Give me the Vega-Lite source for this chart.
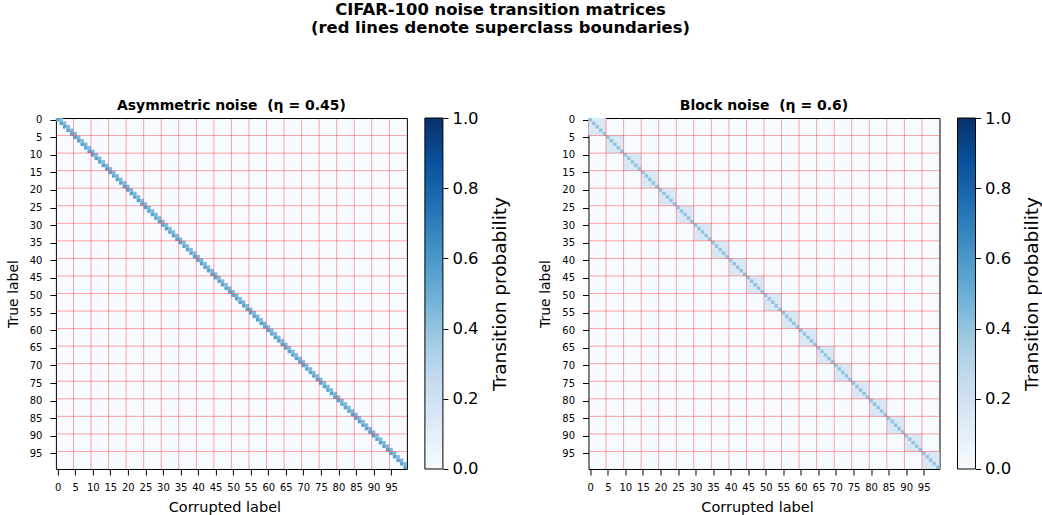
{
  "$schema": "https://vega.github.io/schema/vega-lite/v6.json",
  "background": "white",
  "padding": {"left": 4.9, "top": 2, "right": 0, "bottom": 0},
  "config": {
    "font": "DejaVu Sans",
    "axis": {"labelFont": "DejaVu Sans", "titleFont": "DejaVu Sans", "labelColor": "black", "titleColor": "black", "tickColor": "black", "titleFontWeight": "normal", "grid": false},
    "axisX": {"values": [0,5,10,15,20,25,30,35,40,45,50,55,60,65,70,75,80,85,90,95], "labelFontSize": 10, "tickSize": 6, "labelPadding": 8, "domain": false, "labelAngle": 0, "labelFlush": false, "labelOverlap": false, "titleFontSize": 14.5, "titlePadding": 8, "titleX": 168.5},
    "axisY": {"labelFontSize": 10, "tickSize": 6, "labelPadding": 8, "domain": false, "labelFlush": false, "labelOverlap": false, "titleFontSize": 14, "titlePadding": 9},
    "title": {"font": "DejaVu Sans", "color": "black"}
  },
  "title": {
    "text": ["CIFAR-100 noise transition matrices", "(red lines denote superclass boundaries)"],
    "fontSize": 16.4, "fontWeight": "bold", "anchor": "middle", "lineHeight": 18, "offset": 61.7, "dx": -23
  },
  "datasets": {
    "diag": [
      {"i":0,"a":0.55,"b":0.4},{"i":1,"a":0.55,"b":0.4},{"i":2,"a":0.55,"b":0.4},{"i":3,"a":0.55,"b":0.4},{"i":4,"a":0.55,"b":0.4},
      {"i":5,"a":0.55,"b":0.4},{"i":6,"a":0.55,"b":0.4},{"i":7,"a":0.55,"b":0.4},{"i":8,"a":0.55,"b":0.4},{"i":9,"a":0.55,"b":0.4},
      {"i":10,"a":0.55,"b":0.4},{"i":11,"a":0.55,"b":0.4},{"i":12,"a":0.55,"b":0.4},{"i":13,"a":0.55,"b":0.4},{"i":14,"a":0.55,"b":0.4},
      {"i":15,"a":0.55,"b":0.4},{"i":16,"a":0.55,"b":0.4},{"i":17,"a":0.55,"b":0.4},{"i":18,"a":0.55,"b":0.4},{"i":19,"a":0.55,"b":0.4},
      {"i":20,"a":0.55,"b":0.4},{"i":21,"a":0.55,"b":0.4},{"i":22,"a":0.55,"b":0.4},{"i":23,"a":0.55,"b":0.4},{"i":24,"a":0.55,"b":0.4},
      {"i":25,"a":0.55,"b":0.4},{"i":26,"a":0.55,"b":0.4},{"i":27,"a":0.55,"b":0.4},{"i":28,"a":0.55,"b":0.4},{"i":29,"a":0.55,"b":0.4},
      {"i":30,"a":0.55,"b":0.4},{"i":31,"a":0.55,"b":0.4},{"i":32,"a":0.55,"b":0.4},{"i":33,"a":0.55,"b":0.4},{"i":34,"a":0.55,"b":0.4},
      {"i":35,"a":0.55,"b":0.4},{"i":36,"a":0.55,"b":0.4},{"i":37,"a":0.55,"b":0.4},{"i":38,"a":0.55,"b":0.4},{"i":39,"a":0.55,"b":0.4},
      {"i":40,"a":0.55,"b":0.4},{"i":41,"a":0.55,"b":0.4},{"i":42,"a":0.55,"b":0.4},{"i":43,"a":0.55,"b":0.4},{"i":44,"a":0.55,"b":0.4},
      {"i":45,"a":0.55,"b":0.4},{"i":46,"a":0.55,"b":0.4},{"i":47,"a":0.55,"b":0.4},{"i":48,"a":0.55,"b":0.4},{"i":49,"a":0.55,"b":0.4},
      {"i":50,"a":0.55,"b":0.4},{"i":51,"a":0.55,"b":0.4},{"i":52,"a":0.55,"b":0.4},{"i":53,"a":0.55,"b":0.4},{"i":54,"a":0.55,"b":0.4},
      {"i":55,"a":0.55,"b":0.4},{"i":56,"a":0.55,"b":0.4},{"i":57,"a":0.55,"b":0.4},{"i":58,"a":0.55,"b":0.4},{"i":59,"a":0.55,"b":0.4},
      {"i":60,"a":0.55,"b":0.4},{"i":61,"a":0.55,"b":0.4},{"i":62,"a":0.55,"b":0.4},{"i":63,"a":0.55,"b":0.4},{"i":64,"a":0.55,"b":0.4},
      {"i":65,"a":0.55,"b":0.4},{"i":66,"a":0.55,"b":0.4},{"i":67,"a":0.55,"b":0.4},{"i":68,"a":0.55,"b":0.4},{"i":69,"a":0.55,"b":0.4},
      {"i":70,"a":0.55,"b":0.4},{"i":71,"a":0.55,"b":0.4},{"i":72,"a":0.55,"b":0.4},{"i":73,"a":0.55,"b":0.4},{"i":74,"a":0.55,"b":0.4},
      {"i":75,"a":0.55,"b":0.4},{"i":76,"a":0.55,"b":0.4},{"i":77,"a":0.55,"b":0.4},{"i":78,"a":0.55,"b":0.4},{"i":79,"a":0.55,"b":0.4},
      {"i":80,"a":0.55,"b":0.4},{"i":81,"a":0.55,"b":0.4},{"i":82,"a":0.55,"b":0.4},{"i":83,"a":0.55,"b":0.4},{"i":84,"a":0.55,"b":0.4},
      {"i":85,"a":0.55,"b":0.4},{"i":86,"a":0.55,"b":0.4},{"i":87,"a":0.55,"b":0.4},{"i":88,"a":0.55,"b":0.4},{"i":89,"a":0.55,"b":0.4},
      {"i":90,"a":0.55,"b":0.4},{"i":91,"a":0.55,"b":0.4},{"i":92,"a":0.55,"b":0.4},{"i":93,"a":0.55,"b":0.4},{"i":94,"a":0.55,"b":0.4},
      {"i":95,"a":0.55,"b":0.4},{"i":96,"a":0.55,"b":0.4},{"i":97,"a":0.55,"b":0.4},{"i":98,"a":0.55,"b":0.4},{"i":99,"a":0.55,"b":0.4}
    ],
    "off": [
      {"i":0,"j":1,"p":0.45},{"i":1,"j":2,"p":0.45},{"i":2,"j":3,"p":0.45},{"i":3,"j":4,"p":0.45},{"i":4,"j":5,"p":0.45},
      {"i":5,"j":6,"p":0.45},{"i":6,"j":7,"p":0.45},{"i":7,"j":8,"p":0.45},{"i":8,"j":9,"p":0.45},{"i":9,"j":10,"p":0.45},
      {"i":10,"j":11,"p":0.45},{"i":11,"j":12,"p":0.45},{"i":12,"j":13,"p":0.45},{"i":13,"j":14,"p":0.45},{"i":14,"j":15,"p":0.45},
      {"i":15,"j":16,"p":0.45},{"i":16,"j":17,"p":0.45},{"i":17,"j":18,"p":0.45},{"i":18,"j":19,"p":0.45},{"i":19,"j":20,"p":0.45},
      {"i":20,"j":21,"p":0.45},{"i":21,"j":22,"p":0.45},{"i":22,"j":23,"p":0.45},{"i":23,"j":24,"p":0.45},{"i":24,"j":25,"p":0.45},
      {"i":25,"j":26,"p":0.45},{"i":26,"j":27,"p":0.45},{"i":27,"j":28,"p":0.45},{"i":28,"j":29,"p":0.45},{"i":29,"j":30,"p":0.45},
      {"i":30,"j":31,"p":0.45},{"i":31,"j":32,"p":0.45},{"i":32,"j":33,"p":0.45},{"i":33,"j":34,"p":0.45},{"i":34,"j":35,"p":0.45},
      {"i":35,"j":36,"p":0.45},{"i":36,"j":37,"p":0.45},{"i":37,"j":38,"p":0.45},{"i":38,"j":39,"p":0.45},{"i":39,"j":40,"p":0.45},
      {"i":40,"j":41,"p":0.45},{"i":41,"j":42,"p":0.45},{"i":42,"j":43,"p":0.45},{"i":43,"j":44,"p":0.45},{"i":44,"j":45,"p":0.45},
      {"i":45,"j":46,"p":0.45},{"i":46,"j":47,"p":0.45},{"i":47,"j":48,"p":0.45},{"i":48,"j":49,"p":0.45},{"i":49,"j":50,"p":0.45},
      {"i":50,"j":51,"p":0.45},{"i":51,"j":52,"p":0.45},{"i":52,"j":53,"p":0.45},{"i":53,"j":54,"p":0.45},{"i":54,"j":55,"p":0.45},
      {"i":55,"j":56,"p":0.45},{"i":56,"j":57,"p":0.45},{"i":57,"j":58,"p":0.45},{"i":58,"j":59,"p":0.45},{"i":59,"j":60,"p":0.45},
      {"i":60,"j":61,"p":0.45},{"i":61,"j":62,"p":0.45},{"i":62,"j":63,"p":0.45},{"i":63,"j":64,"p":0.45},{"i":64,"j":65,"p":0.45},
      {"i":65,"j":66,"p":0.45},{"i":66,"j":67,"p":0.45},{"i":67,"j":68,"p":0.45},{"i":68,"j":69,"p":0.45},{"i":69,"j":70,"p":0.45},
      {"i":70,"j":71,"p":0.45},{"i":71,"j":72,"p":0.45},{"i":72,"j":73,"p":0.45},{"i":73,"j":74,"p":0.45},{"i":74,"j":75,"p":0.45},
      {"i":75,"j":76,"p":0.45},{"i":76,"j":77,"p":0.45},{"i":77,"j":78,"p":0.45},{"i":78,"j":79,"p":0.45},{"i":79,"j":80,"p":0.45},
      {"i":80,"j":81,"p":0.45},{"i":81,"j":82,"p":0.45},{"i":82,"j":83,"p":0.45},{"i":83,"j":84,"p":0.45},{"i":84,"j":85,"p":0.45},
      {"i":85,"j":86,"p":0.45},{"i":86,"j":87,"p":0.45},{"i":87,"j":88,"p":0.45},{"i":88,"j":89,"p":0.45},{"i":89,"j":90,"p":0.45},
      {"i":90,"j":91,"p":0.45},{"i":91,"j":92,"p":0.45},{"i":92,"j":93,"p":0.45},{"i":93,"j":94,"p":0.45},{"i":94,"j":95,"p":0.45},
      {"i":95,"j":96,"p":0.45},{"i":96,"j":97,"p":0.45},{"i":97,"j":98,"p":0.45},{"i":98,"j":99,"p":0.45}
    ],
    "blocks": [
      {"lo":0,"hi":4,"p":0.15},{"lo":5,"hi":9,"p":0.15},{"lo":10,"hi":14,"p":0.15},{"lo":15,"hi":19,"p":0.15},{"lo":20,"hi":24,"p":0.15},
      {"lo":25,"hi":29,"p":0.15},{"lo":30,"hi":34,"p":0.15},{"lo":35,"hi":39,"p":0.15},{"lo":40,"hi":44,"p":0.15},{"lo":45,"hi":49,"p":0.15},
      {"lo":50,"hi":54,"p":0.15},{"lo":55,"hi":59,"p":0.15},{"lo":60,"hi":64,"p":0.15},{"lo":65,"hi":69,"p":0.15},{"lo":70,"hi":74,"p":0.15},
      {"lo":75,"hi":79,"p":0.15},{"lo":80,"hi":84,"p":0.15},{"lo":85,"hi":89,"p":0.15},{"lo":90,"hi":94,"p":0.15},{"lo":95,"hi":99,"p":0.15}
    ],
    "bounds": [
      {"b":4.5},{"b":9.5},{"b":14.5},{"b":19.5},{"b":24.5},{"b":29.5},{"b":34.5},{"b":39.5},{"b":44.5},{"b":49.5},
      {"b":54.5},{"b":59.5},{"b":64.5},{"b":69.5},{"b":74.5},{"b":79.5},{"b":84.5},{"b":89.5},{"b":94.5}
    ],
    "cbar": [{"lo":0,"hi":1}]
  },
  "spacing": 28.6,
  "hconcat": [
    {
      "spacing": 16,
      "hconcat": [
        {
          "width": 351, "height": 351,
          "view": {"fill": "#f7fbff", "stroke": "black", "strokeWidth": 1},
          "title": {"text": "Asymmetric noise\u00a0 (η = 0.45)", "fontSize": 14, "fontWeight": "bold", "offset": 2},
          "layer": [
            {
              "data": {"name": "off"},
              "mark": {"type": "rect", "xOffset": -1.755, "x2Offset": 1.755, "yOffset": -1.755, "y2Offset": 1.755},
              "encoding": {
                "x": {"field": "j", "type": "quantitative", "scale": {"domain": [-0.5, 99.5], "nice": false, "zero": false},
                      "axis": {"values": [0,5,10,15,20,25,30,35,40,45,50,55,60,65,70,75,80,85,90,95], "title": "Corrupted label"}},
                "x2": {"field": "j"},
                "y": {"field": "i", "type": "quantitative", "scale": {"domain": [-0.5, 99.5], "nice": false, "zero": false, "reverse": true},
                      "axis": {"values": [0,5,10,15,20,25,30,35,40,45,50,55,60,65,70,75,80,85,90,95], "title": "True label"}},
                "y2": {"field": "i"},
                "color": {"field": "p", "type": "quantitative", "legend": null,
                          "scale": {"type": "linear", "domain": [0,0.125,0.25,0.375,0.5,0.625,0.75,0.875,1], "range": ["#f7fbff","#deebf7","#c6dbef","#9ecae1","#6baed6","#4292c6","#2171b5","#08519c","#08306b"], "interpolate": "rgb"}}
              }
            },
            {
              "data": {"name": "diag"},
              "mark": {"type": "rect", "xOffset": -1.755, "x2Offset": 1.755, "yOffset": -1.755, "y2Offset": 1.755},
              "encoding": {
                "x": {"field": "i", "type": "quantitative", "axis": {"values": [0,5,10,15,20,25,30,35,40,45,50,55,60,65,70,75,80,85,90,95], "title": "Corrupted label"}},
                "x2": {"field": "i"},
                "y": {"field": "i", "type": "quantitative", "axis": {"values": [0,5,10,15,20,25,30,35,40,45,50,55,60,65,70,75,80,85,90,95], "title": "True label"}},
                "y2": {"field": "i"},
                "color": {"field": "a", "type": "quantitative", "legend": null}
              }
            },
            {
              "data": {"name": "bounds"},
              "mark": {"type": "rule", "color": "#ff0000", "opacity": 0.45, "strokeWidth": 0.8},
              "encoding": {"x": {"field": "b", "type": "quantitative", "axis": {"values": [0,5,10,15,20,25,30,35,40,45,50,55,60,65,70,75,80,85,90,95], "title": "Corrupted label"}}}
            },
            {
              "data": {"name": "bounds"},
              "mark": {"type": "rule", "color": "#ff0000", "opacity": 0.45, "strokeWidth": 0.8},
              "encoding": {"y": {"field": "b", "type": "quantitative", "axis": {"values": [0,5,10,15,20,25,30,35,40,45,50,55,60,65,70,75,80,85,90,95], "title": "True label"}}}
            }
          ]
        },
        {
          "width": 18, "height": 351,
          "view": {"stroke": null},
          "data": {"name": "cbar"},
          "mark": {"type": "rect", "stroke": "black", "strokeWidth": 1,
                   "fill": {"gradient": "linear", "x1": 0, "y1": 1, "x2": 0, "y2": 0,
                            "stops": [{"offset":0,"color":"#f7fbff"},{"offset":0.125,"color":"#deebf7"},{"offset":0.25,"color":"#c6dbef"},{"offset":0.375,"color":"#9ecae1"},{"offset":0.5,"color":"#6baed6"},{"offset":0.625,"color":"#4292c6"},{"offset":0.75,"color":"#2171b5"},{"offset":0.875,"color":"#08519c"},{"offset":1,"color":"#08306b"}]}},
          "encoding": {
            "x": {"value": 0}, "x2": {"value": "width"},
            "y": {"field": "lo", "type": "quantitative", "scale": {"domain": [0, 1], "nice": false},
                  "axis": {"orient": "right", "values": [0,0.2,0.4,0.6,0.8,1], "format": ".1f", "labelFontSize": 16.5, "tickSize": 5, "labelPadding": 4, "title": "Transition probability", "titleFontSize": 18.5, "titleAngle": 270, "titleBaseline": "top", "titlePadding": 12}},
            "y2": {"field": "hi"}
          }
        }
      ]
    },
    {
      "spacing": 16,
      "hconcat": [
        {
          "width": 351, "height": 351,
          "view": {"fill": "#f7fbff", "stroke": "black", "strokeWidth": 1},
          "title": {"text": "Block noise\u00a0 (η = 0.6)", "fontSize": 14, "fontWeight": "bold", "offset": 2},
          "layer": [
            {
              "data": {"name": "blocks"},
              "mark": {"type": "rect", "xOffset": -1.755, "x2Offset": 1.755, "yOffset": -1.755, "y2Offset": 1.755},
              "encoding": {
                "x": {"field": "lo", "type": "quantitative", "scale": {"domain": [-0.5, 99.5], "nice": false, "zero": false},
                      "axis": {"values": [0,5,10,15,20,25,30,35,40,45,50,55,60,65,70,75,80,85,90,95], "title": "Corrupted label"}},
                "x2": {"field": "hi"},
                "y": {"field": "lo", "type": "quantitative", "scale": {"domain": [-0.5, 99.5], "nice": false, "zero": false, "reverse": true},
                      "axis": {"values": [0,5,10,15,20,25,30,35,40,45,50,55,60,65,70,75,80,85,90,95], "title": "True label"}},
                "y2": {"field": "hi"},
                "color": {"field": "p", "type": "quantitative", "legend": null,
                          "scale": {"type": "linear", "domain": [0,0.125,0.25,0.375,0.5,0.625,0.75,0.875,1], "range": ["#f7fbff","#deebf7","#c6dbef","#9ecae1","#6baed6","#4292c6","#2171b5","#08519c","#08306b"], "interpolate": "rgb"}}
              }
            },
            {
              "data": {"name": "diag"},
              "mark": {"type": "rect", "xOffset": -1.755, "x2Offset": 1.755, "yOffset": -1.755, "y2Offset": 1.755},
              "encoding": {
                "x": {"field": "i", "type": "quantitative", "axis": {"values": [0,5,10,15,20,25,30,35,40,45,50,55,60,65,70,75,80,85,90,95], "title": "Corrupted label"}},
                "x2": {"field": "i"},
                "y": {"field": "i", "type": "quantitative", "axis": {"values": [0,5,10,15,20,25,30,35,40,45,50,55,60,65,70,75,80,85,90,95], "title": "True label"}},
                "y2": {"field": "i"},
                "color": {"field": "b", "type": "quantitative", "legend": null}
              }
            },
            {
              "data": {"name": "bounds"},
              "mark": {"type": "rule", "color": "#ff0000", "opacity": 0.45, "strokeWidth": 0.8},
              "encoding": {"x": {"field": "b", "type": "quantitative", "axis": {"values": [0,5,10,15,20,25,30,35,40,45,50,55,60,65,70,75,80,85,90,95], "title": "Corrupted label"}}}
            },
            {
              "data": {"name": "bounds"},
              "mark": {"type": "rule", "color": "#ff0000", "opacity": 0.45, "strokeWidth": 0.8},
              "encoding": {"y": {"field": "b", "type": "quantitative", "axis": {"values": [0,5,10,15,20,25,30,35,40,45,50,55,60,65,70,75,80,85,90,95], "title": "True label"}}}
            }
          ]
        },
        {
          "width": 18, "height": 351,
          "view": {"stroke": null},
          "data": {"name": "cbar"},
          "mark": {"type": "rect", "stroke": "black", "strokeWidth": 1,
                   "fill": {"gradient": "linear", "x1": 0, "y1": 1, "x2": 0, "y2": 0,
                            "stops": [{"offset":0,"color":"#f7fbff"},{"offset":0.125,"color":"#deebf7"},{"offset":0.25,"color":"#c6dbef"},{"offset":0.375,"color":"#9ecae1"},{"offset":0.5,"color":"#6baed6"},{"offset":0.625,"color":"#4292c6"},{"offset":0.75,"color":"#2171b5"},{"offset":0.875,"color":"#08519c"},{"offset":1,"color":"#08306b"}]}},
          "encoding": {
            "x": {"value": 0}, "x2": {"value": "width"},
            "y": {"field": "lo", "type": "quantitative", "scale": {"domain": [0, 1], "nice": false},
                  "axis": {"orient": "right", "values": [0,0.2,0.4,0.6,0.8,1], "format": ".1f", "labelFontSize": 16.5, "tickSize": 5, "labelPadding": 4, "title": "Transition probability", "titleFontSize": 18.5, "titleAngle": 270, "titleBaseline": "top", "titlePadding": 12}},
            "y2": {"field": "hi"}
          }
        }
      ]
    }
  ]
}
